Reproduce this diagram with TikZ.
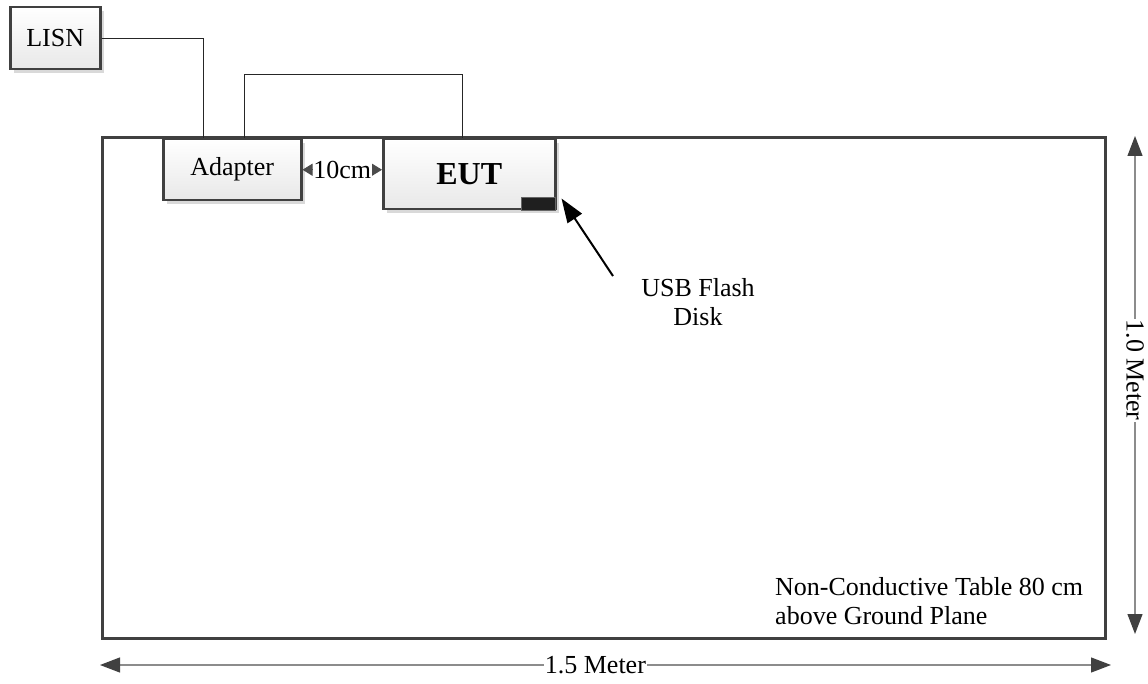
\documentclass[tikz,border=0pt]{standalone}
\usepackage{fontspec}
\setmainfont{Liberation Serif}
\usetikzlibrary{arrows.meta,shadows}

\begin{document}
\begin{tikzpicture}[x=1pt,y=1pt,yscale=-1,xscale=1,
  box/.style={draw={rgb,255:red,64;green,64;blue,64}, line width=2.5pt, top color=white, bottom color=black!9,
    drop shadow={shadow xshift=4pt,shadow yshift=-4pt,opacity=0.15,fill=black}, anchor=north west, inner sep=0pt},
  txt/.style={font=\fontsize{26}{29}\selectfont},
  wire/.style={line width=1pt, black!85},
  dimline/.style={line width=1.2pt, draw=black!45,
    {Triangle[length=20pt,width=15pt,color=black!75]}-{Triangle[length=20pt,width=15pt,color=black!75]}},
  gaparrow/.style={line width=1pt, draw=black!70,
    {Triangle[length=10pt,width=12pt,color=black!70]}-{Triangle[length=10pt,width=12pt,color=black!70]}}
]
\useasboundingbox (0,0) rectangle (1148,684);

% table
\node[draw={rgb,255:red,64;green,64;blue,64}, line width=3pt, anchor=north west, minimum width=1003, minimum height=501, inner sep=0pt] (table) at (101,136) {};

% equipment
\node[box, minimum width=90, minimum height=62, txt] (lisn) at (9,6) {LISN};
\node[box, minimum width=138, minimum height=61, txt] (adapter) at (162,138) {Adapter};
\node[box, minimum width=172, minimum height=70, font=\fontsize{32}{36}\selectfont\bfseries] (eut) at (382,138) {EUT};
\node[fill=black!88, draw=black!60, line width=1pt, minimum width=34, minimum height=13, inner sep=0pt, anchor=south east] (usb) at ([xshift=-1pt,yshift=1pt]eut.south east) {};

% wires
\draw[wire] (lisn.east) -| ([xshift=41pt]adapter.north west);
\draw[wire] ([xshift=82pt]adapter.north west) -- ++(0,-63) -| ([xshift=80pt]eut.north west);

% 10cm spacing
\draw[gaparrow] (adapter.east) -- (adapter.east -| eut.west) node[midway, fill=white, txt, inner sep=0.5pt] (gap) {10cm};

% USB flash disk
\coordinate (usbtail) at (613,276);
\node[txt, align=center] (usblabel) at (698,302) {USB Flash\\Disk};
\draw[line width=2pt, -{Triangle[length=24pt,width=17pt]}] (usbtail) -- ([xshift=6pt,yshift=-13pt]usb.south east);

% table note
\node[txt, align=left, anchor=north west, inner sep=3pt] (tablenote) at (772,574) {Non-Conductive Table 80 cm\\above Ground Plane};

% dimensions
\coordinate (hl) at (100,665);
\coordinate (hr) at (1111,665);
\draw[dimline] (hl) -- (hr) node[pos=0.49, fill=white, txt, inner sep=1pt] (width) {1.5 Meter};
\coordinate (vt) at (1135,136);
\coordinate (vb) at (1135,634);
\draw[dimline] (vt) -- (vb) node[pos=0.47, fill=white, txt, rotate=-90, inner sep=1pt] (depth) {1.0 Meter};

\end{tikzpicture}
\end{document}
